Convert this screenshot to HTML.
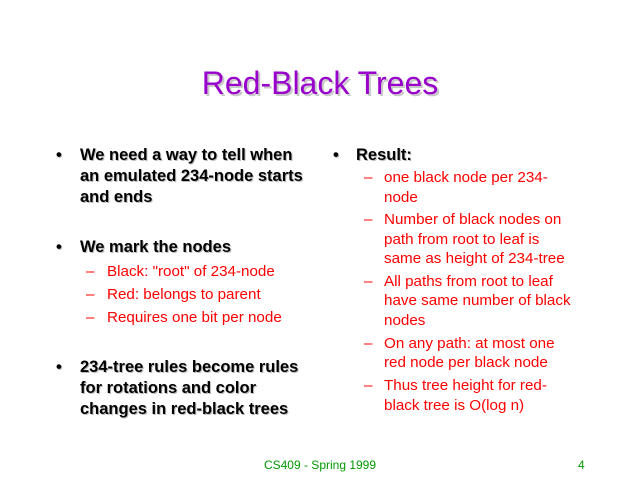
<!DOCTYPE html>
<html><head><style>
body{margin:0;width:640px;height:480px;background:#fff;position:relative;overflow:hidden;font-family:"Liberation Sans",Arial,sans-serif}
div{position:absolute;white-space:nowrap;line-height:20px}
.b{font-size:16.5px;font-weight:bold;color:#000;text-shadow:1px 1px 0 #bbb}
.r{font-size:15.2px;color:#f00}
.t{left:0;width:640px;text-align:center;top:63px;line-height:40px;font-size:32px;color:#9900cc;text-shadow:2px 2px 0 #c8c8c8}
</style></head><body>
<div class="t">Red-Black Trees</div>

<div class="b" style="left:56px;top:145px">•</div>
<div class="b" style="left:80px;top:145px">We need a way to tell when</div>
<div class="b" style="left:80px;top:166px">an emulated 234-node starts</div>
<div class="b" style="left:80px;top:187px">and ends</div>

<div class="b" style="left:56px;top:237px">•</div>
<div class="b" style="left:80px;top:237px">We mark the nodes</div>
<div class="r" style="left:86px;top:262px">–</div><div class="r" style="left:107px;top:262px">Black: "root" of 234-node</div>
<div class="r" style="left:86px;top:285px">–</div><div class="r" style="left:107px;top:285px">Red: belongs to parent</div>
<div class="r" style="left:86px;top:308px">–</div><div class="r" style="left:107px;top:308px">Requires one bit per node</div>

<div class="b" style="left:56px;top:357px">•</div>
<div class="b" style="left:80px;top:357px">234-tree rules become rules</div>
<div class="b" style="left:80px;top:378px">for rotations and color</div>
<div class="b" style="left:80px;top:399px">changes in red-black trees</div>

<div class="b" style="left:333px;top:145px">•</div>
<div class="b" style="left:356px;top:145px">Result:</div>
<div class="r" style="left:364px;top:168px">–</div>
<div class="r" style="left:384px;top:168px">one black node per 234-</div>
<div class="r" style="left:384px;top:188px">node</div>
<div class="r" style="left:364px;top:210px">–</div>
<div class="r" style="left:384px;top:210px">Number of black nodes on</div>
<div class="r" style="left:384px;top:230px">path from root to leaf is</div>
<div class="r" style="left:384px;top:249px">same as height of 234-tree</div>
<div class="r" style="left:364px;top:272px">–</div>
<div class="r" style="left:384px;top:272px">All paths from root to leaf</div>
<div class="r" style="left:384px;top:291px">have same number of black</div>
<div class="r" style="left:384px;top:311px">nodes</div>
<div class="r" style="left:364px;top:334px">–</div>
<div class="r" style="left:384px;top:334px">On any path: at most one</div>
<div class="r" style="left:384px;top:353px">red node per black node</div>
<div class="r" style="left:364px;top:376px">–</div>
<div class="r" style="left:384px;top:376px">Thus tree height for red-</div>
<div class="r" style="left:384px;top:396px">black tree is O(log n)</div>

<div style="left:0;width:640px;text-align:center;top:455px;font-size:12px;color:#009900">CS409 - Spring 1999</div>
<div style="left:578px;top:455px;font-size:12px;color:#009900">4</div>
</body></html>
